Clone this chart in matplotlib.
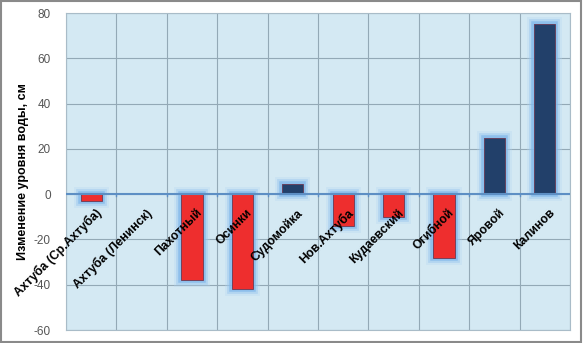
import matplotlib.pyplot as plt
import matplotlib.patheffects as pe
import numpy as np

# Данные
posty = ["Ахтуба (Ср.Ахтуба)", "Ахтуба (Ленинск)", "Пахотный", "Осинки", "Судомойка",
         "Нов.Ахтуба", "Кудаевский", "Огибной", "Яровой", "Калинов"]
izmenenie = [-3, 0, -38, -42, 4.5, -14, -10, -28, 25, 75]

plt.rcParams['axes.unicode_minus'] = False
plt.rcParams['font.family'] = ['Liberation Sans', 'DejaVu Sans']

x = np.arange(len(posty))
cveta = ['#ee2e2e' if v < 0 else '#22406a' for v in izmenenie]

fig = plt.figure(figsize=(5.83, 3.43), dpi=100)
ax = fig.add_axes([0.1132, 0.0379, 0.8645, 0.924])
ax.set_facecolor('#d4e9f3')

glow = [pe.Stroke(linewidth=10, foreground='#b3d6f2', alpha=0.3),
        pe.Stroke(linewidth=7, foreground='#95c4ef', alpha=0.45),
        pe.Stroke(linewidth=4, foreground='#80b7ea', alpha=0.7),
        pe.Normal()]

barras = ax.bar(x, izmenenie, 0.42, color=cveta, edgecolor='#6a3a55', linewidth=0.6, zorder=3)
for b, v in zip(barras, izmenenie):
    if v != 0:
        b.set_path_effects(glow)
    else:
        b.set_visible(False)

ax.set_xlim(-0.5, len(posty) - 0.5)
ax.set_ylim(-60, 80)
ax.set_yticks(range(-60, 81, 20))
ax.set_xticks(np.arange(-0.5, len(posty), 1))
ax.set_xticklabels([])
ax.tick_params(axis='x', length=0)
ax.tick_params(axis='y', length=0, labelsize=8.5, labelcolor='#555555', pad=11)
ax.grid(True, color='#93a9b6', linewidth=0.8, zorder=0)
for s in ax.spines.values():
    s.set_color('#a9bcc8')
    s.set_linewidth(0.8)

ax.axhline(0, color='#5d8fc4', linewidth=1.5, zorder=4)
for xi in np.arange(0.5, len(posty) - 0.5, 1):
    ax.plot([xi, xi], [0, -0.8], color='#5d8fc4', linewidth=1, zorder=4)

for xi, nazv in zip(x, posty):
    ax.annotate(nazv, (xi + 0.08, 0), xytext=(0, -9), textcoords='offset points',
                rotation=45, rotation_mode='anchor', ha='right', va='top',
                fontsize=8.8, fontweight='bold', color='black', zorder=5)

ax.set_ylabel('Изменение уровня воды, см', fontsize=9, fontweight='bold', labelpad=3)

fig.patches.append(plt.Rectangle((0.002, 0.003), 0.995, 0.994, transform=fig.transFigure,
                                 fill=False, edgecolor='#8a8a8a', linewidth=1.5))

fig.savefig('out.png', dpi=100)
